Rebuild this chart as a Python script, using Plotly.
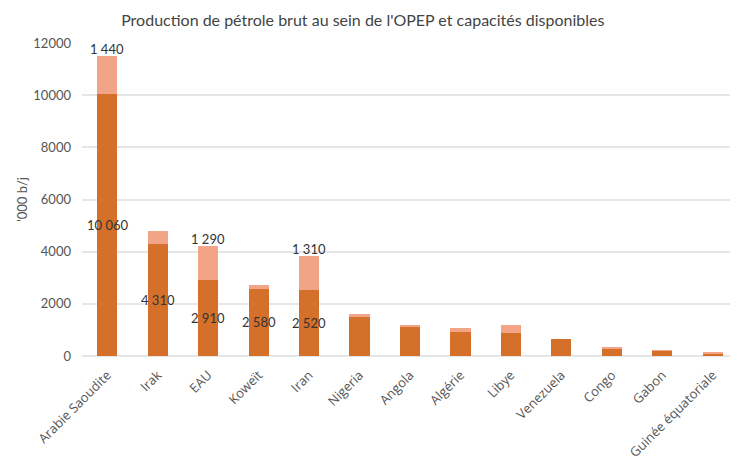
import plotly.graph_objects as go

countries = ["Arabie Saoudite", "Irak", "EAU", "Koweït", "Iran", "Nigeria", "Angola",
             "Algérie", "Libye", "Venezuela", "Congo", "Gabon", "Guinée équatoriale"]
production = [10060, 4310, 2910, 2580, 2520, 1530, 1100, 930, 900, 640, 270, 200, 110]
spare = [1440, 470, 1290, 140, 1310, 70, 80, 130, 280, 0, 40, 20, 30]
show_prod_label = [True, True, True, True, True] + [False] * 8
show_spare_label = [True, False, True, False, True] + [False] * 8


def fmt(v):
    return f"{v:,}".replace(",", "\u00a0")


DARK = "#D4702A"
LIGHT = "#F2A586"
LABEL_FONT = dict(color="#333333", size=13, family="Lato, sans-serif")

fig = go.Figure()
fig.add_trace(go.Bar(x=countries, y=production, marker_color=DARK, marker_line_width=0,
                     name="Production"))
fig.add_trace(go.Bar(x=countries, y=spare, marker_color=LIGHT, marker_line_width=0,
                     name="Capacités disponibles"))

for c, p, s, sp, ss in zip(countries, production, spare, show_prod_label, show_spare_label):
    if sp:
        fig.add_annotation(x=c, y=p / 2, text=fmt(p), showarrow=False,
                           font=LABEL_FONT, xanchor="center", yanchor="middle")
    if ss:
        fig.add_annotation(x=c, y=p + s, text=fmt(s), showarrow=False,
                           font=LABEL_FONT, xanchor="center", yanchor="bottom", yshift=-3)

fig.update_layout(
    barmode="stack", bargap=0.6,
    width=730, height=453,
    margin=dict(l=74, r=0, t=35, b=105),
    paper_bgcolor="white", plot_bgcolor="white",
    showlegend=False,
    font=dict(family="Lato, sans-serif", color="#555555"),
    title=dict(text="Production de pétrole brut au sein de l'OPEP et capacités disponibles",
               x=0.486, xanchor="center", y=0.985, yanchor="top",
               font=dict(size=16, color="#444444", family="Lato, sans-serif")),
)
fig.update_yaxes(range=[0, 12000], dtick=2000, tickformat="d", automargin=False,
                 showgrid=True, gridcolor="#E6E6E6", gridwidth=2,
                 zeroline=True, zerolinecolor="#E6E6E6", zerolinewidth=2,
                 showline=False, ticks="", ticklen=0, ticklabelstandoff=10,
                 tickfont=dict(size=13, color="#555555"),
                 title=dict(text="'000 b/j", font=dict(size=13, color="#555555"), standoff=2))
fig.update_xaxes(tickangle=-45, showline=False, ticks="", automargin=False,
                 ticklabelstandoff=8,
                 tickfont=dict(size=13, color="#555555", family="Open Sans, sans-serif"))

fig.write_html("out.html")
